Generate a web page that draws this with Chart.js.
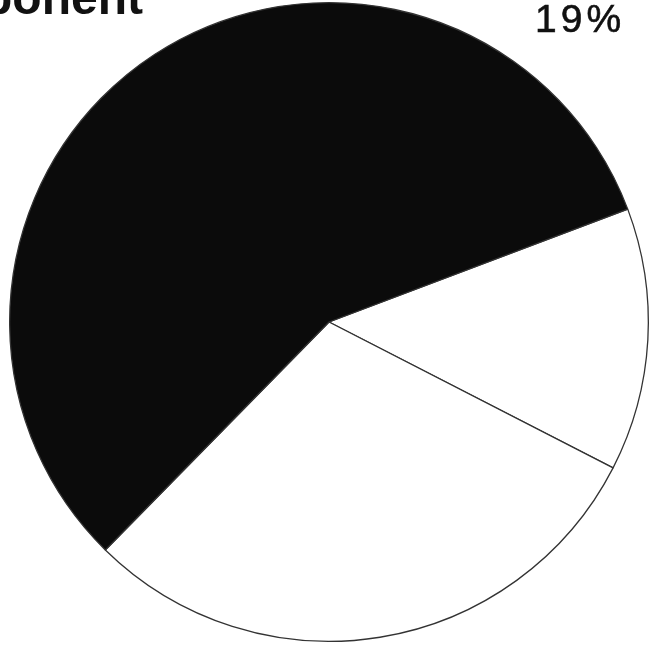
<!DOCTYPE html>
<html>
<head>
<meta charset="utf-8">
<script src="https://cdn.jsdelivr.net/npm/chart.js@4"></script>
<style>
  html, body { margin: 0; padding: 0; background: #fff; overflow: hidden; }
  #wrap { position: relative; width: 654px; height: 645px; }
  #title { position: absolute; left: -17px; top: -26px; font: bold 48px "Liberation Sans", Arial, sans-serif; line-height: 1; color: #111; white-space: nowrap; }
  #pct { position: absolute; left: 535px; top: -1px; font: 39px "Liberation Sans", Arial, sans-serif; line-height: 1; letter-spacing: 4px; color: #111; white-space: nowrap; -webkit-text-stroke: 0.6px #111; }
</style>
</head>
<body>
<div id="wrap">
  <canvas id="pieChart"></canvas>
  <div id="title">ponent</div>
  <div id="pct">19%</div>
</div>
<script>
// slices, clockwise from the first white one
const categories = ['Segment A', 'Segment B', 'Segment C'];
const shares = [13.3, 29.8, 56.9];
const sliceColors = ['#ffffff', '#ffffff', '#0b0b0b'];

const pieCtx = document.getElementById('pieChart').getContext('2d');

const pieChart = new Chart(pieCtx, {
  type: 'pie',
  data: {
    labels: categories,
    datasets: [{
      data: shares,
      backgroundColor: sliceColors,
      borderColor: '#333333',
      borderWidth: 1.3
    }]
  },
  options: {
    responsive: true,
    maintainAspectRatio: false,
    animation: false,
    rotation: 69.3,
    layout: { padding: { left: 9, top: 2, right: 5, bottom: 3 } },
    plugins: {
      legend: { display: false },
      tooltip: { enabled: false }
    }
  }
});
</script>
</body>
</html>
